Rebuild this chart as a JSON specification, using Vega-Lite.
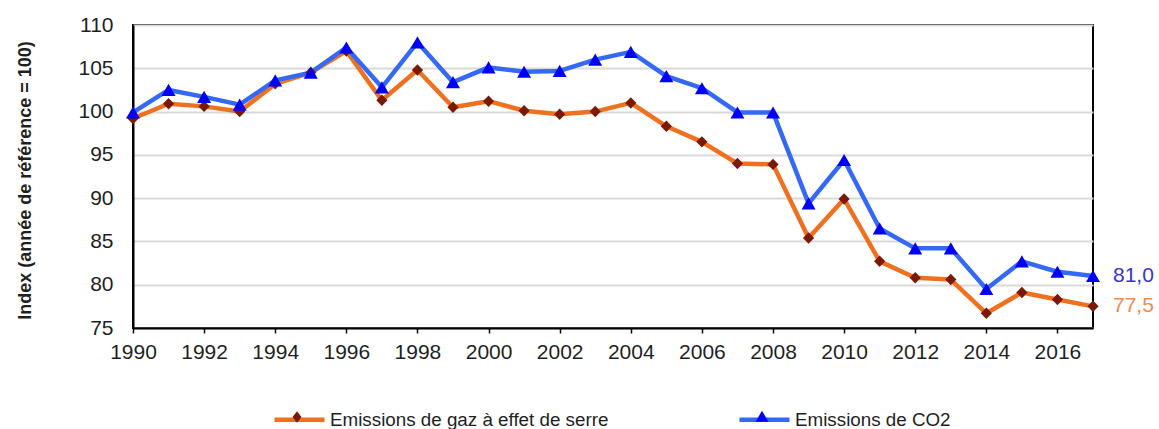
{
  "$schema": "https://vega.github.io/schema/vega-lite/v6.json",
  "width": 960,
  "height": 303,
  "autosize": {"type": "none"},
  "padding": {"left": 133, "top": 25, "right": 66, "bottom": 101},
  "background": "#ffffff",
  "config": {
    "font": "Liberation Sans",
    "locale": {
      "number": {"decimal": ",", "thousands": "\u00a0", "grouping": [3], "currency": ["", "\u00a0€"]}
    },
    "view": {"stroke": "#000000", "strokeWidth": 2},
    "axis": {
      "labelFont": "Liberation Sans",
      "labelFontSize": 21,
      "labelColor": "#1f1f1f",
      "domainColor": "#000000",
      "domainWidth": 2
    },
    "legend": {
      "labelFont": "Liberation Sans",
      "labelFontSize": 18.8,
      "labelColor": "#1f1f1f",
      "labelLimit": 0,
      "padding": 0
    }
  },
  "data": {
    "values": [
      {"year": 1990, "series": "Emissions de gaz à effet de serre", "value": 99.2},
      {"year": 1991, "series": "Emissions de gaz à effet de serre", "value": 100.9},
      {"year": 1992, "series": "Emissions de gaz à effet de serre", "value": 100.6},
      {"year": 1993, "series": "Emissions de gaz à effet de serre", "value": 100.0},
      {"year": 1994, "series": "Emissions de gaz à effet de serre", "value": 103.2},
      {"year": 1995, "series": "Emissions de gaz à effet de serre", "value": 104.5},
      {"year": 1996, "series": "Emissions de gaz à effet de serre", "value": 107.0},
      {"year": 1997, "series": "Emissions de gaz à effet de serre", "value": 101.3},
      {"year": 1998, "series": "Emissions de gaz à effet de serre", "value": 104.8},
      {"year": 1999, "series": "Emissions de gaz à effet de serre", "value": 100.5},
      {"year": 2000, "series": "Emissions de gaz à effet de serre", "value": 101.2},
      {"year": 2001, "series": "Emissions de gaz à effet de serre", "value": 100.1},
      {"year": 2002, "series": "Emissions de gaz à effet de serre", "value": 99.7},
      {"year": 2003, "series": "Emissions de gaz à effet de serre", "value": 100.0},
      {"year": 2004, "series": "Emissions de gaz à effet de serre", "value": 101.0},
      {"year": 2005, "series": "Emissions de gaz à effet de serre", "value": 98.3},
      {"year": 2006, "series": "Emissions de gaz à effet de serre", "value": 96.5},
      {"year": 2007, "series": "Emissions de gaz à effet de serre", "value": 94.0},
      {"year": 2008, "series": "Emissions de gaz à effet de serre", "value": 93.9},
      {"year": 2009, "series": "Emissions de gaz à effet de serre", "value": 85.4},
      {"year": 2010, "series": "Emissions de gaz à effet de serre", "value": 89.9},
      {"year": 2011, "series": "Emissions de gaz à effet de serre", "value": 82.7},
      {"year": 2012, "series": "Emissions de gaz à effet de serre", "value": 80.8},
      {"year": 2013, "series": "Emissions de gaz à effet de serre", "value": 80.6},
      {"year": 2014, "series": "Emissions de gaz à effet de serre", "value": 76.7},
      {"year": 2015, "series": "Emissions de gaz à effet de serre", "value": 79.1},
      {"year": 2016, "series": "Emissions de gaz à effet de serre", "value": 78.3},
      {"year": 2017, "series": "Emissions de gaz à effet de serre", "value": 77.5},
      {"year": 1990, "series": "Emissions de CO2", "value": 99.9},
      {"year": 1991, "series": "Emissions de CO2", "value": 102.5},
      {"year": 1992, "series": "Emissions de CO2", "value": 101.7},
      {"year": 1993, "series": "Emissions de CO2", "value": 100.8},
      {"year": 1994, "series": "Emissions de CO2", "value": 103.6},
      {"year": 1995, "series": "Emissions de CO2", "value": 104.5},
      {"year": 1996, "series": "Emissions de CO2", "value": 107.4},
      {"year": 1997, "series": "Emissions de CO2", "value": 102.8},
      {"year": 1998, "series": "Emissions de CO2", "value": 108.0},
      {"year": 1999, "series": "Emissions de CO2", "value": 103.4},
      {"year": 2000, "series": "Emissions de CO2", "value": 105.1},
      {"year": 2001, "series": "Emissions de CO2", "value": 104.6},
      {"year": 2002, "series": "Emissions de CO2", "value": 104.7},
      {"year": 2003, "series": "Emissions de CO2", "value": 106.0},
      {"year": 2004, "series": "Emissions de CO2", "value": 106.9},
      {"year": 2005, "series": "Emissions de CO2", "value": 104.1},
      {"year": 2006, "series": "Emissions de CO2", "value": 102.7},
      {"year": 2007, "series": "Emissions de CO2", "value": 99.9},
      {"year": 2008, "series": "Emissions de CO2", "value": 99.9},
      {"year": 2009, "series": "Emissions de CO2", "value": 89.4},
      {"year": 2010, "series": "Emissions de CO2", "value": 94.4},
      {"year": 2011, "series": "Emissions de CO2", "value": 86.5},
      {"year": 2012, "series": "Emissions de CO2", "value": 84.2},
      {"year": 2013, "series": "Emissions de CO2", "value": 84.2},
      {"year": 2014, "series": "Emissions de CO2", "value": 79.5},
      {"year": 2015, "series": "Emissions de CO2", "value": 82.7},
      {"year": 2016, "series": "Emissions de CO2", "value": 81.5},
      {"year": 2017, "series": "Emissions de CO2", "value": 81.0}
    ]
  },
  "encoding": {
    "x": {
      "field": "year",
      "type": "quantitative",
      "scale": {"domain": [1990, 2017], "nice": false, "zero": false},
      "axis": {
        "title": null,
        "values": [1990, 1992, 1994, 1996, 1998, 2000, 2002, 2004, 2006, 2008, 2010, 2012, 2014, 2016],
        "format": "d",
        "grid": false,
        "ticks": true,
        "tickSize": 5,
        "tickColor": "#000000",
        "tickWidth": 1.5,
        "labelPadding": 8,
        "labelFlush": false,
        "labelOverlap": false
      }
    },
    "y": {
      "field": "value",
      "type": "quantitative",
      "scale": {"domain": [75, 110], "nice": false, "zero": false},
      "axis": {
        "title": "Index (année de référence = 100)",
        "titleFont": "Liberation Sans",
        "titleFontSize": 18,
        "titleFontWeight": "bold",
        "titleColor": "#1f1f1f",
        "titleAngle": 270,
        "titleAlign": "center",
        "titleBaseline": "bottom",
        "titleX": -99,
        "titleY": 155,
        "values": [75, 80, 85, 90, 95, 100, 105, 110],
        "ticks": false,
        "tickSize": 0,
        "labelPadding": 20,
        "grid": true,
        "gridColor": "#d9d9d9",
        "gridWidth": 2
      }
    }
  },
  "layer": [
    {
      "mark": {"type": "line", "strokeWidth": 4.5, "strokeJoin": "round"},
      "encoding": {
        "color": {
          "field": "series",
          "type": "nominal",
          "scale": {
            "domain": ["Emissions de gaz à effet de serre", "Emissions de CO2"],
            "range": ["#ef711f", "#3468f6"]
          },
          "legend": {
            "title": null,
            "orient": "none",
            "legendX": 139,
            "legendY": 367,
            "direction": "horizontal",
            "columnPadding": 121,
            "symbolType": "stroke",
            "symbolSize": 2500,
            "symbolStrokeWidth": 4.5,
            "labelOffset": 3,
            "encode": {
              "symbols": {"update": {"shape": {"value": "stroke"}}}
            }
          }
        }
      }
    },
    {
      "mark": {"type": "point", "filled": true, "opacity": 1, "strokeWidth": 0, "size": 196},
      "encoding": {
        "fill": {
          "field": "series",
          "type": "nominal",
          "sort": null,
          "scale": {"range": ["#7b1a04", "#0000f5"]},
          "legend": {
            "title": null,
            "orient": "none",
            "legendX": 139,
            "legendY": 367,
            "direction": "horizontal",
            "columnPadding": 412,
            "symbolSize": 2500,
            "symbolStrokeWidth": 0,
            "symbolOpacity": 1,
            "labelOffset": 3,
            "labelExpr": "''",
            "encode": {
              "symbols": {
                "update": {
                  "shape": {"signal": "datum.value === 'Emissions de CO2' ? 'M0,-0.25L0.26,0.19L-0.26,0.19Z' : 'M0,-0.23L0.18,0L0,0.23L-0.18,0Z'"}
                }
              }
            }
          }
        },
        "shape": {
          "field": "series",
          "type": "nominal",
          "scale": {
            "domain": ["Emissions de CO2", "Emissions de gaz à effet de serre"],
            "range": ["triangle-up", "M0,-0.82L0.8,0L0,0.82L-0.8,0Z"]
          },
          "legend": null
        }
      }
    },
    {
      "transform": [{"filter": "datum.year == 2017 && datum.series == 'Emissions de CO2'"}],
      "mark": {"type": "text", "align": "left", "baseline": "middle", "dx": 20, "fontSize": 21, "font": "Liberation Sans", "color": "#3535d0"},
      "encoding": {
        "text": {"field": "value", "type": "quantitative", "format": ".1f"}
      }
    },
    {
      "transform": [{"filter": "datum.year == 2017 && datum.series == 'Emissions de gaz à effet de serre'"}],
      "mark": {"type": "text", "align": "left", "baseline": "middle", "dx": 20, "fontSize": 21, "font": "Liberation Sans", "color": "#f08a4b"},
      "encoding": {
        "text": {"field": "value", "type": "quantitative", "format": ".1f"}
      }
    }
  ]
}
